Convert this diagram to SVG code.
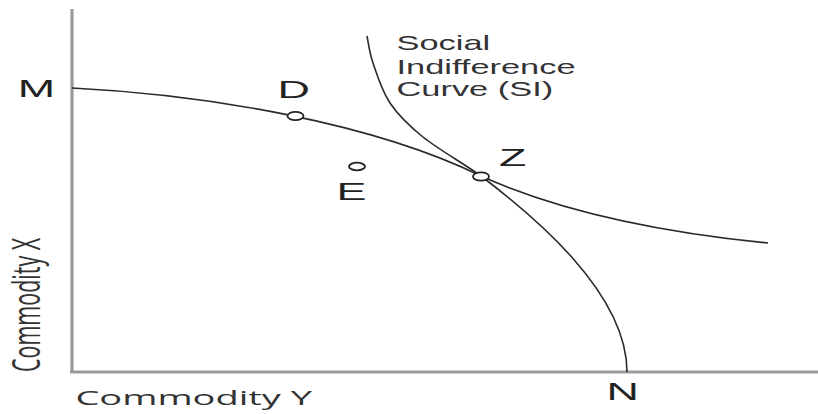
<svg xmlns="http://www.w3.org/2000/svg" width="818" height="414" viewBox="0 0 818 414">
<style>
.axis{stroke:#9a9a9a;stroke-width:3.2;fill:none}
.curve{stroke:#2a2a2a;stroke-width:1.6;fill:none}
.pt{fill:#fff;stroke:#222;stroke-width:1.8}
.lbl{font-family:"Liberation Sans",Arial,sans-serif;font-size:23px;fill:#222}
.si{font-family:"Liberation Sans",Arial,sans-serif;font-size:20px;fill:#333}
.ax{font-family:"Open Sans","Noto Sans",sans-serif;fill:#333}
</style>
<rect width="818" height="414" fill="#fff"/>
<g id="axes">
<line class="axis" x1="72" y1="9" x2="72" y2="373"/>
<line class="axis" x1="70" y1="372" x2="818" y2="372"/>
</g>
<g id="connectors">
<path id="ppf" class="curve" d="M72,88 C212,95 375,124 481,176 C571,216.5 678,234 768,243"/>
<path id="si-curve" class="curve" d="M367,36 C368,40.5 369.2,51.8 373,63 C376.8,74.2 381.7,90.7 390,103 C398.3,115.3 407.8,124.8 423,137 C438.2,149.2 462.3,162.7 481,176 C531,214 627,292 627,372"/>
</g>
<g id="node-M"><text class="lbl" transform="translate(17.7,97) scale(1.95,1)">M</text></g>
<g id="node-D">
<ellipse class="pt" cx="295.5" cy="116" rx="8" ry="4.2"/>
<text class="lbl" transform="translate(277.4,98) scale(1.95,1)">D</text>
</g>
<g id="node-E">
<ellipse class="pt" cx="357" cy="166.5" rx="8" ry="3.8"/>
<text class="lbl" transform="translate(336.4,200) scale(1.95,1)">E</text>
</g>
<g id="node-Z">
<ellipse class="pt" cx="481" cy="176.5" rx="8" ry="4.2"/>
<text class="lbl" transform="translate(499,166) scale(1.95,1)">Z</text>
</g>
<g id="node-N"><text class="lbl" transform="translate(606.6,400) scale(1.95,1)">N</text></g>
<g id="label-SI">
<text class="si" transform="translate(396.5,50) scale(1.72,1)">Social</text>
<text class="si" transform="translate(396.5,73.5) scale(1.72,1)">Indifference</text>
<text class="si" transform="translate(396.5,96) scale(1.72,1)">Curve (SI)</text>
</g>
<g id="label-axes">
<text class="ax" font-size="19.5" transform="translate(75.4,405) scale(1.95,1)">Commodity Y</text>
<text class="ax" font-size="21.5" transform="translate(40,372) rotate(-90) scale(1,1.8)">Commodity X</text>
</g>
</svg>
